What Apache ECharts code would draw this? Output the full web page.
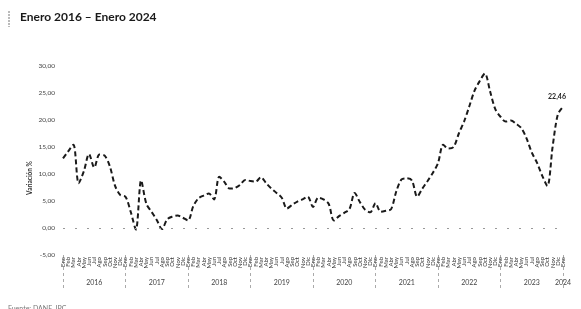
<!DOCTYPE html>
<html>
<head>
<meta charset="utf-8">
<script src="https://cdn.jsdelivr.net/npm/echarts@6/dist/echarts.min.js"></script>
<style>
  html, body { margin: 0; padding: 0; background: #fff; }
  #chart { width: 581px; height: 309px; }
</style>
</head>
<body>
<div id="chart"></div>
<script>
// Meses y años del eje
const months = ['Ene', 'Feb', 'Mar', 'Abr', 'May', 'Jun', 'Jul', 'Ago', 'Sep', 'Oct', 'Nov', 'Dic'];
const years = [2016, 2017, 2018, 2019, 2020, 2021, 2022, 2023, 2024];

// Variación % mensual, Ene 2016 - Ene 2024
const v2016 = [12.9, 14.2, 15.4, 8.3, 10.5, 13.7, 11.2, 13.6, 13.4, 11.4, 7.8, 6.1];
const v2017 = [5.8, 3.0, -0.3, 8.8, 4.5, 3.0, 1.5, -0.2, 1.6, 2.1, 2.3, 1.9];
const v2018 = [1.4, 4.0, 5.5, 6.0, 6.4, 5.3, 9.5, 8.5, 7.3, 7.4, 8.0, 8.9];
const v2019 = [8.7, 8.6, 9.4, 8.3, 7.3, 6.5, 5.6, 3.6, 4.3, 4.9, 5.3, 5.8];
const v2020 = [3.9, 5.6, 5.3, 4.5, 1.4, 2.2, 2.8, 3.5, 6.5, 4.8, 3.4, 2.9];
const v2021 = [4.6, 3.0, 3.2, 3.5, 6.8, 9.0, 9.2, 8.8, 5.8, 7.3, 8.7, 10.2];
const v2022 = [12.0, 15.4, 14.7, 15.0, 17.5, 19.7, 22.5, 25.4, 27.2, 28.6, 25.3, 22.0];
const v2023 = [20.6, 19.7, 19.9, 19.3, 18.5, 16.6, 14.0, 12.1, 9.7, 7.8, 15.0, 21.0];
const v2024 = [22.46];

const yTicks = [-5, 0, 5, 10, 15, 20, 25, 30];

const values = [].concat(v2016, v2017, v2018, v2019, v2020, v2021, v2022, v2023, v2024);
const monthCats = [];
const yearCats = [];
years.forEach(y => {
    const n = y === 2024 ? 1 : 12;
    for (let m = 0; m < n; m++) {
        monthCats.push(months[m]);
        yearCats.push(String(y));
    }
});

const fmt = v => v.toFixed(2).replace('.', ',');
const font = 'Lato';
const lastIdx = values.length - 1;

const chart = echarts.init(document.getElementById('chart'));

const option = {
    animation: false,
    backgroundColor: '#fff',
    grid: { left: 63, right: 18, top: 66, bottom: 54 },
    xAxis: [
        {
            type: 'category',
            data: monthCats,
            boundaryGap: false,
            position: 'bottom',
            axisLine: { show: false, onZero: false },
            axisTick: { show: false },
            axisLabel: {
                interval: 0, rotate: 90, margin: 2,
                fontFamily: font, fontSize: 6, color: '#333'
            }
        },
        {
            type: 'category',
            data: yearCats,
            boundaryGap: false,
            position: 'bottom',
            axisLine: { show: false, onZero: false },
            axisTick: {
                show: true, length: 36,
                interval: idx => idx % 12 === 0,
                lineStyle: { color: '#aaa', type: [3, 3], width: 1 }
            },
            axisLabel: {
                margin: 24, fontFamily: font, fontSize: 7, color: '#444',
                interval: idx => idx % 12 === 6 || idx === lastIdx
            },
            splitLine: { show: false }
        }
    ],
    yAxis: {
        type: 'value',
        min: yTicks[0],
        max: yTicks[yTicks.length - 1],
        interval: 5,
        axisLine: { show: false },
        axisTick: { show: false },
        splitLine: { show: false },
        axisLabel: {
            margin: 8, fontFamily: font, fontSize: 6.5, color: '#444',
            formatter: fmt
        }
    },
    series: [{
        type: 'line',
        data: values,
        smooth: 0.3,
        symbol: 'none',
        lineStyle: { color: '#1a1a1a', width: 2, type: [5, 3] },
        markLine: {
            silent: true,
            symbol: 'none',
            label: { show: false },
            lineStyle: { color: '#999', type: [2, 10], width: 1 },
            data: [{ yAxis: 0 }]
        },
        markPoint: {
            silent: true,
            symbol: 'circle',
            symbolSize: 0,
            label: {
                show: true, position: 'top', distance: 6, offset: [-6, 0],
                formatter: p => fmt(p.value),
                fontFamily: font, fontSize: 7, fontWeight: 'bold', color: '#222'
            },
            data: [{ coord: [lastIdx, values[lastIdx]], value: values[lastIdx] }]
        }
    }],
    graphic: [
        {
            type: 'text', left: 20, top: 11,
            style: {
                text: 'Enero 2016 – Enero 2024',
                font: 'bold 12px ' + font, fill: '#1a1a1a'
            }
        },
        {
            type: 'line',
            shape: { x1: 9, y1: 11, x2: 9, y2: 27 },
            style: { stroke: '#777', lineWidth: 1, lineDash: [2, 1] }
        },
        {
            type: 'text', x: 30, y: 178, rotation: Math.PI / 2,
            style: {
                text: 'Variación %',
                font: 'bold 6.5px ' + font, fill: '#333',
                align: 'center', verticalAlign: 'middle'
            }
        },
        {
            type: 'text', left: 8, top: 305,
            style: {
                text: 'Fuente: DANE, IPC',
                font: '7px ' + font, fill: '#777'
            }
        }
    ]
};

chart.setOption(option);
</script>
</body>
</html>
